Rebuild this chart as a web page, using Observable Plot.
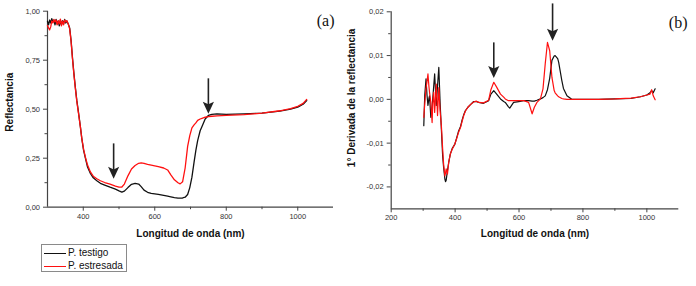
<!DOCTYPE html>
<html><head><meta charset="utf-8">
<script src="https://cdn.jsdelivr.net/npm/d3@7"></script>
<script src="https://cdn.jsdelivr.net/npm/@observablehq/plot@0.6"></script>
<style>
body{margin:0;background:#fff;}
#wrap{position:relative;width:696px;height:286px;overflow:hidden;font-family:"Liberation Sans",Arial,sans-serif;background:#fff;}
#pa,#pb{position:absolute;top:0;}
#pa{left:0;} #pb{left:340px;}
#legend{position:absolute;left:41px;top:244px;width:86px;height:28px;border:1px solid #8a8a8a;box-sizing:border-box;font-size:10px;color:#111;}
#legend .row{position:absolute;left:0;height:12px;line-height:12px;white-space:nowrap;}
#legend .sw{position:absolute;left:2px;top:6px;width:22px;height:0;border-top:1.3px solid;}
#legend .lb{position:absolute;left:26px;top:0;}
</style></head>
<body>
<div id="wrap">
  <div id="pa"></div>
  <div id="pb"></div>
  <div id="legend"></div>
</div>
<script>
// ---- Data ----
const seriesNames = ["P. testigo", "P. estresada"];
const seriesColors = ["#111111", "#ff1010"];

// Panel (a): reflectance
const wlA = [300,303,306,309,312,315,318,321,324,327,330,333,336,339,342,345,348,351,354,358,362,366,370,374,378,382,387,392,396,401,406,412,420,428,438,448,460,475,490,500,508,515,525,535,545,555,562,570,580,590,610,625,636,645,655,665,671,678,685,692,698,704,710,715,720,727,734,741,750,760,774,800,850,900,950,980,1000,1015,1025];
const reflTestigo = [0.949,0.93,0.955,0.94,0.962,0.945,0.955,0.93,0.958,0.935,0.95,0.925,0.955,0.93,0.952,0.935,0.958,0.94,0.95,0.935,0.915,0.85,0.76,0.68,0.61,0.545,0.48,0.41,0.35,0.29,0.25,0.205,0.172,0.15,0.135,0.122,0.113,0.102,0.092,0.083,0.077,0.082,0.1,0.117,0.122,0.118,0.105,0.087,0.076,0.07,0.065,0.06,0.056,0.053,0.049,0.046,0.046,0.047,0.051,0.065,0.1,0.153,0.23,0.29,0.34,0.39,0.42,0.45,0.468,0.474,0.476,0.474,0.476,0.48,0.49,0.5,0.51,0.525,0.544];
const reflEstresada = [0.927,0.915,0.905,0.92,0.95,0.94,0.958,0.945,0.955,0.93,0.952,0.935,0.96,0.925,0.95,0.93,0.955,0.945,0.952,0.935,0.91,0.845,0.755,0.675,0.605,0.54,0.475,0.41,0.35,0.295,0.255,0.215,0.18,0.158,0.145,0.135,0.126,0.118,0.108,0.102,0.103,0.118,0.16,0.195,0.213,0.224,0.226,0.224,0.219,0.215,0.207,0.2,0.19,0.165,0.14,0.125,0.119,0.13,0.2,0.31,0.365,0.405,0.42,0.43,0.443,0.45,0.455,0.459,0.462,0.464,0.466,0.468,0.472,0.48,0.492,0.503,0.515,0.53,0.55];

// Panel (b): first derivative
const wlB = [302,305,309,312,315,318,320,324,328,330,333,336,341,345,349,353,357,361,364,368,370,372,376,380,385,391,399,406,411,417,422,427,432,440,448,458,466,474,489,505,512,521,530,542,552,557,567,571,583,599,615,630,641,648,656,667,675,682,689,696,703,710,713,721,724,734,739,750,765,800,850,900,950,980,1000,1010,1015,1020,1026];
const derivTestigo = [-0.006,0.001,0.0047,0.001,-0.0014,0.0002,0.0008,-0.0041,-0.0015,0.0001,0.003,0.0058,-0.0014,0.0031,0.0073,-0.0007,-0.0068,-0.0129,-0.0155,-0.0182,-0.0188,-0.0185,-0.0163,-0.0144,-0.0125,-0.0112,-0.0103,-0.0085,-0.0072,-0.0062,-0.0047,-0.0035,-0.0026,-0.0018,-0.0012,-0.0005,-0.0005,-0.0007,-0.0009,-0.0003,0.0012,0.002,0.0012,0.0001,-0.0005,-0.0007,-0.0017,-0.002,-0.0007,-0.0005,-0.0003,-0.0003,-0.0004,-0.0004,-0.0002,0.0001,0.0004,0.0008,0.0022,0.0048,0.0089,0.0099,0.01,0.0093,0.0085,0.0043,0.0025,0.0008,0,0,0,0.0001,0.0002,0.0006,0.001,0.0015,0.002,0.0015,0.0024];
const derivEstresada = [-0.0041,-0.001,0.0025,0.004,0.0058,0.003,0.0016,-0.0007,-0.0053,-0.001,0.0016,-0.003,0.0035,-0.0037,0.0027,-0.0026,-0.006,-0.0113,-0.0148,-0.0175,-0.0168,-0.0159,-0.0171,-0.0144,-0.0125,-0.0114,-0.0102,-0.0087,-0.0075,-0.0064,-0.005,-0.0037,-0.0027,-0.0018,-0.0012,-0.0006,-0.0004,-0.0007,-0.0008,-0.0002,0.0022,0.0039,0.0028,0.0012,0.0005,0.0001,-0.0003,-0.0003,-0.0003,-0.0003,-0.0003,-0.0007,-0.0033,-0.0018,-0.0007,0.0001,0.0024,0.0081,0.013,0.0111,0.005,0.002,0.0015,0.0008,0.0006,0.0002,0.0001,0,0,0,0,0.0001,0.0003,0.0006,0.001,0.0012,0.0022,0.0008,-0.0001];

// Annotation arrows (data coordinates)
const arrowsA = [{x: 485, from: 0.323, to: 0.145}, {x: 750, from: 0.655, to: 0.477}];
const arrowsB = [{x: 521, from: 0.0129, to: 0.0049}, {x: 705, from: 0.0218, to: 0.0134}];

// Axis ticks
const xTicksA = [400, 600, 800, 1000], xMinorA = [500, 700, 900];
const yTicksA = [0, 0.25, 0.5, 0.75, 1], yMinorA = [0.125, 0.375, 0.625, 0.875];
const xTicksB = [200, 400, 600, 800, 1000], xMinorB = [300, 500, 700, 900];
const yTicksB = [-0.02, -0.01, 0, 0.01, 0.02], yMinorB = [-0.015, -0.005, 0.005, 0.015];

// ---- Helpers ----
const fmt = d => d.toFixed(2).replace(".", ",");
const tidy = (wl, a, b) => [
  ...wl.map((w, i) => ({wl: w, v: a[i], s: seriesNames[0]})),
  ...wl.map((w, i) => ({wl: w, v: b[i], s: seriesNames[1]}))
];
const arrowHead = {
  draw(ctx, size) {
    const r = Math.sqrt(size / Math.PI);
    const w = 1.4 * r, h = 3 * r;
    ctx.moveTo(0, 0); ctx.lineTo(-w, -h); ctx.lineTo(0, -h * 0.78); ctx.lineTo(w, -h); ctx.closePath();
  }
};
const axisColor = "#444";
const tickText = {fontSize: 7.5, fill: "#333"};
function arrowMarks(arr) {
  return [
    Plot.ruleX(arr, {x: "x", y1: "from", y2: "to", stroke: "#222", strokeWidth: 1.6, insetBottom: 7}),
    Plot.dot(arr, {x: "x", y: "to", symbol: arrowHead, r: 4, fill: "#222", stroke: "none"})
  ];
}
function axes(xT, xM, yT, yM, x0, y0) {
  return [
    Plot.ruleX([x0], {stroke: axisColor, strokeWidth: 1.2}),
    Plot.ruleY([y0], {stroke: axisColor, strokeWidth: 1.2}),
    Plot.axisX(xT, {tickSize: 4, tickPadding: 2, tickFormat: d => String(d), stroke: axisColor, ...tickText}),
    Plot.axisX(xM, {tickSize: 2.5, tickFormat: () => "", stroke: axisColor}),
    Plot.axisY(yT, {tickSize: 4, tickPadding: 3.5, tickFormat: fmt, stroke: axisColor, ...tickText}),
    Plot.axisY(yM, {tickSize: 2.5, tickFormat: () => "", stroke: axisColor})
  ];
}
const colorScale = {domain: seriesNames, range: seriesColors};
const baseStyle = {fontFamily: "Liberation Sans, Arial, sans-serif", background: "transparent", overflow: "visible"};
const titleText = {lineAnchor: "middle", textAnchor: "middle", fontWeight: "bold", fontSize: 10, fill: "#111"};

// ---- Panel (a) ----
const plotA = Plot.plot({
  width: 340, height: 286,
  marginLeft: 47, marginRight: 7, marginTop: 10.7, marginBottom: 79.3,
  x: {domain: [300, 1100]},
  y: {domain: [0, 1]},
  color: colorScale,
  style: baseStyle,
  marks: [
    ...axes(xTicksA, xMinorA, yTicksA, yMinorA, 300, 0),
    Plot.line(tidy(wlA, reflTestigo, reflEstresada), {x: "wl", y: "v", z: "s", stroke: "s", strokeWidth: 1.3}),
    ...arrowMarks(arrowsA),
    Plot.text(["Longitud de onda (nm)"], {frameAnchor: "bottom", dy: 26.5, ...titleText}),
    Plot.text(["Reflectancia"], {frameAnchor: "left", dx: -38, dy: -7, rotate: -90, ...titleText}),
    Plot.text(["(a)"], {frameAnchor: "top-right", textAnchor: "end", dx: 1, dy: 9.5, lineAnchor: "middle", fontFamily: "Liberation Serif, Times New Roman, serif", fontSize: 16, fill: "#111"})
  ]
});
document.getElementById("pa").appendChild(plotA);

// ---- Panel (b) ----
const plotB = Plot.plot({
  width: 356, height: 286,
  marginLeft: 50.7, marginRight: 17.7, marginTop: 11.3, marginBottom: 77.7,
  x: {domain: [200, 1100]},
  y: {domain: [-0.025, 0.02]},
  color: colorScale,
  style: baseStyle,
  marks: [
    ...axes(xTicksB, xMinorB, yTicksB, yMinorB, 200, -0.025),
    Plot.line(tidy(wlB, derivTestigo, derivEstresada), {x: "wl", y: "v", z: "s", stroke: "s", strokeWidth: 1.2}),
    ...arrowMarks(arrowsB),
    Plot.text(["Longitud de onda (nm)"], {frameAnchor: "bottom", dy: 24.7, ...titleText}),
    Plot.text(["1° Derivada de la reflectancia"], {frameAnchor: "left", dx: -39.7, dy: -12.4, rotate: -90, ...titleText}),
    Plot.text(["(b)"], {frameAnchor: "top-right", textAnchor: "end", dx: 8.7, dy: 10.7, lineAnchor: "middle", fontFamily: "Liberation Serif, Times New Roman, serif", fontSize: 16, fill: "#111"})
  ]
});
document.getElementById("pb").appendChild(plotB);

// ---- Legend ----
const leg = document.getElementById("legend");
seriesNames.forEach((name, i) => {
  const row = document.createElement("div");
  row.className = "row";
  row.style.top = (2 + i * 12.7) + "px";
  row.innerHTML = `<span class="sw" style="border-color:${seriesColors[i]}"></span><span class="lb">${name}</span>`;
  leg.appendChild(row);
});
</script>
</body></html>
